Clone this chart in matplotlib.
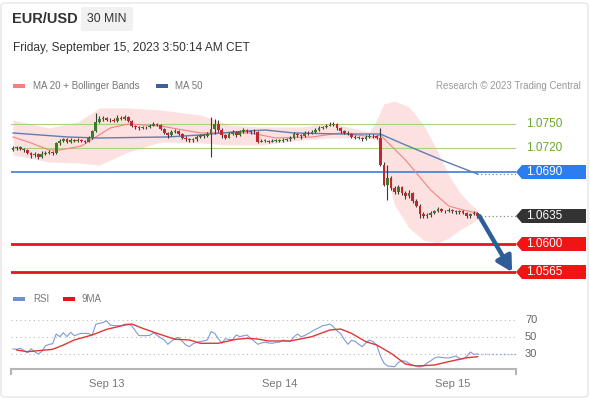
import numpy as np
import matplotlib
matplotlib.use("Agg")
import matplotlib.pyplot as plt
from matplotlib.patches import Polygon, FancyBboxPatch

plt.rcParams['font.family'] = ['Liberation Sans', 'DejaVu Sans']

# -------- DATA --------
# 30 min candles, index 0 = Sep 12 11:00
close = [1.0720, 1.0721, 1.0719, 1.0718, 1.0714, 1.0711, 1.0713, 1.0709, 1.0713, 1.0714,
         1.0715, 1.0714, 1.0726, 1.0729, 1.0731, 1.0728, 1.0730, 1.0729, 1.0730, 1.0729,
         1.0728, 1.0733, 1.0741, 1.0753, 1.0756, 1.0758, 1.0755, 1.0755, 1.0754, 1.0758,
         1.0756, 1.0759, 1.0754, 1.0748, 1.0746, 1.0745, 1.0746, 1.0746, 1.0748, 1.0750,
         1.0749, 1.0744, 1.0739, 1.0736, 1.0740, 1.0741, 1.0738, 1.0733, 1.0731, 1.0730,
         1.0731, 1.0734, 1.0736, 1.0735, 1.0738, 1.0744, 1.0750, 1.0743, 1.0736, 1.0733,
         1.0738, 1.0740, 1.0736, 1.0741, 1.0743, 1.0741, 1.0740, 1.0740, 1.0728, 1.0729,
         1.0729, 1.0728, 1.0729, 1.0729, 1.0729, 1.0730, 1.0731, 1.0733, 1.0738, 1.0736,
         1.0735, 1.0739, 1.0738, 1.0740, 1.0743, 1.0745, 1.0746, 1.0748, 1.0749, 1.0750,
         1.0745, 1.0741, 1.0739, 1.0738, 1.0734, 1.0733, 1.0733, 1.0731, 1.0734, 1.0735,
         1.0735, 1.0733, 1.0699, 1.0674, 1.0683, 1.0670, 1.0665, 1.0671, 1.0664, 1.0660,
         1.0664, 1.0654, 1.0648, 1.0638, 1.0635, 1.0636, 1.0639, 1.0641, 1.0644, 1.0641,
         1.0641, 1.0643, 1.0641, 1.0640, 1.0641, 1.0639, 1.0635, 1.0637, 1.0639, 1.0635]
high = [1.0723, 1.0723, 1.0722, 1.0720, 1.0719, 1.0715, 1.0715, 1.0714, 1.0716, 1.0716,
        1.0717, 1.0716, 1.0727, 1.0731, 1.0733, 1.0732, 1.0732, 1.0731, 1.0732, 1.0731,
        1.0730, 1.0735, 1.0743, 1.0764, 1.0760, 1.0760, 1.0759, 1.0757, 1.0757, 1.0761,
        1.0760, 1.0761, 1.0760, 1.0755, 1.0749, 1.0748, 1.0748, 1.0748, 1.0750, 1.0752,
        1.0751, 1.0750, 1.0745, 1.0740, 1.0743, 1.0744, 1.0742, 1.0739, 1.0735, 1.0733,
        1.0733, 1.0736, 1.0738, 1.0738, 1.0740, 1.0759, 1.0756, 1.0755, 1.0745, 1.0738,
        1.0740, 1.0743, 1.0741, 1.0743, 1.0745, 1.0744, 1.0743, 1.0744, 1.0741, 1.0731,
        1.0731, 1.0730, 1.0731, 1.0731, 1.0731, 1.0732, 1.0733, 1.0735, 1.0740, 1.0739,
        1.0738, 1.0741, 1.0741, 1.0742, 1.0745, 1.0747, 1.0748, 1.0750, 1.0752, 1.0753,
        1.0751, 1.0746, 1.0742, 1.0741, 1.0739, 1.0736, 1.0735, 1.0734, 1.0736, 1.0737,
        1.0737, 1.0736, 1.0745, 1.0702, 1.0699, 1.0685, 1.0672, 1.0674, 1.0673, 1.0666,
        1.0667, 1.0665, 1.0656, 1.0650, 1.0640, 1.0639, 1.0641, 1.0643, 1.0646, 1.0645,
        1.0643, 1.0645, 1.0644, 1.0643, 1.0643, 1.0642, 1.0640, 1.0639, 1.0641, 1.0640]
low = [1.0716, 1.0718, 1.0717, 1.0715, 1.0712, 1.0708, 1.0709, 1.0706, 1.0707, 1.0711,
       1.0712, 1.0711, 1.0713, 1.0724, 1.0727, 1.0726, 1.0726, 1.0727, 1.0727, 1.0727,
       1.0726, 1.0727, 1.0731, 1.0740, 1.0751, 1.0754, 1.0754, 1.0753, 1.0752, 1.0753,
       1.0755, 1.0755, 1.0752, 1.0746, 1.0744, 1.0743, 1.0744, 1.0744, 1.0745, 1.0747,
       1.0747, 1.0742, 1.0737, 1.0733, 1.0735, 1.0739, 1.0736, 1.0731, 1.0729, 1.0728,
       1.0728, 1.0729, 1.0733, 1.0733, 1.0734, 1.0709, 1.0738, 1.0740, 1.0732, 1.0731,
       1.0732, 1.0736, 1.0734, 1.0735, 1.0739, 1.0739, 1.0738, 1.0738, 1.0726, 1.0727,
       1.0727, 1.0726, 1.0727, 1.0727, 1.0727, 1.0728, 1.0729, 1.0729, 1.0731, 1.0734,
       1.0731, 1.0734, 1.0736, 1.0737, 1.0739, 1.0741, 1.0744, 1.0745, 1.0747, 1.0748,
       1.0743, 1.0739, 1.0737, 1.0736, 1.0732, 1.0731, 1.0731, 1.0729, 1.0730, 1.0733,
       1.0733, 1.0731, 1.0697, 1.0672, 1.0655, 1.0668, 1.0662, 1.0663, 1.0661, 1.0656,
       1.0658, 1.0651, 1.0646, 1.0633, 1.0632, 1.0633, 1.0634, 1.0637, 1.0640, 1.0640,
       1.0639, 1.0640, 1.0639, 1.0638, 1.0638, 1.0637, 1.0633, 1.0633, 1.0636, 1.0633]
first_open = 1.07175

# Bollinger band / moving averages (sampled points)
bb_idx = [0, 10, 18, 24, 32, 41, 52, 60, 69, 80, 88, 99, 101, 103, 106, 110, 114, 118, 121, 124, 127, 129]
bb_upper = [1.0755, 1.0745, 1.07525, 1.0770, 1.0770, 1.07675, 1.07613, 1.07488, 1.07463, 1.07463, 1.07513,
            1.0740, 1.0755, 1.0775, 1.07788, 1.07713, 1.07488, 1.0715, 1.06863, 1.0665, 1.0650, 1.06425]
bb_lower = [1.07113, 1.07025, 1.07013, 1.06988, 1.0715, 1.07275, 1.07263, 1.07238, 1.07238, 1.0730, 1.07325,
            1.07325, 1.0730, 1.06988, 1.06488, 1.0620, 1.0605, 1.06013, 1.06075, 1.06175, 1.0625, 1.06313]
ma20_idx = [0, 5, 10, 13, 19, 23, 27, 32, 41, 52, 66, 73, 83, 91, 100, 102, 109, 116, 121, 125, 129]
ma20 = [1.07338, 1.07263, 1.07175, 1.07175, 1.07225, 1.07338, 1.0745, 1.0750, 1.07475, 1.07388, 1.07388,
        1.07325, 1.07338, 1.07388, 1.07338, 1.07363, 1.0705, 1.06675, 1.06475, 1.06425, 1.06388]
ma50_idx = [0, 15, 24, 43, 52, 61, 70, 78, 91, 102, 109, 119, 129]
ma50 = [1.07388, 1.07338, 1.07325, 1.07338, 1.07363, 1.0740, 1.07425, 1.07388, 1.07375, 1.07375,
        1.07238, 1.0705, 1.06875]

# levels
resist = [1.0750, 1.0720]
pivot = 1.0690
last_price = 1.0635
supports = [1.0600, 1.0565]

# RSI
rsi = [36, 35.5, 36.7, 34, 31.5, 36, 32.7, 30, 33, 39.4,
       41.4, 42, 53.5, 50.4, 55, 50.4, 55.5, 51.6, 53, 54.3,
       54.3, 54, 52.4, 65, 66, 67, 69, 64, 63.5, 63.3,
       63.3, 65, 65.3, 63, 57, 51.6, 51.6, 51.6, 52, 55,
       52, 49, 46.5, 41.4, 45, 48.4, 49.6, 45, 40.6, 38.6,
       42, 43.8, 44.5, 45.5, 46.5, 56.3, 54.3, 48, 42.6, 48,
       47, 47, 52.4, 50.4, 51.5, 52.4, 48.4, 45, 41.4, 43,
       43.8, 43, 42.6, 43.5, 44, 46.5, 45.5, 44.5, 50, 53.5,
       50.4, 51.6, 54, 56.5, 59, 61, 63.3, 64, 65.3, 62,
       57, 54, 47, 41.4, 46, 45, 41.5, 38.6, 43, 46.5,
       44.5, 40.6, 28, 19.4, 16, 15.5, 15, 20, 22, 21.5,
       19, 17, 15.9, 14.7, 16, 19.4, 22, 25, 26.5, 26,
       25.5, 25.3, 26.5, 27.6, 25, 24.1, 27, 32.4, 29.5, 30]
ma9_idx = [1, 4, 11, 14, 17, 22, 26, 31, 33, 36, 40, 45, 49, 52, 57, 62, 65, 68, 71, 77, 83, 88, 91,
           94, 98, 101, 105, 109, 112, 117, 121, 126, 129]
ma9 = [34.7, 32.7, 35.5, 40.6, 46.5, 52.4, 59, 64, 65.3, 60.2, 54.3, 47.3, 46.5, 42.6, 42.6, 47.3, 48.4,
       47.6, 45.3, 45.3, 50.4, 58.2, 59.4, 54.3, 44.5, 40.6, 30.8, 18.2, 15.9, 17, 21, 25.6, 26.8]

day_idx = [26, 74, 122]
day_labels = ["Sep 13", "Sep 14", "Sep 15"]

# -------- FIGURE --------
W, H = 590, 400
fig = plt.figure(figsize=(5.9, 4.0), dpi=100)

def fx(px):
    return px / W

def fy(py):
    return 1 - py / H

# outer card
fig.patches.append(FancyBboxPatch((fx(1), fy(397)), fx(587), fy(3) - fy(397),
                                  boxstyle="round,pad=0,rounding_size=0.008",
                                  transform=fig.transFigure, fc='none', ec='#e6e6e6', lw=1))

# header
fig.patches.append(FancyBboxPatch((fx(81), fy(31)), fx(52), fy(7) - fy(31),
                                  boxstyle="round,pad=0,rounding_size=0.004",
                                  transform=fig.transFigure, fc='#f1f1f1', ec='none'))
fig.text(fx(12), fy(19), "EUR/USD", fontsize=10.5, fontweight='bold', color='#333333', va='center')
fig.text(fx(107), fy(19), "30 MIN", fontsize=8.8, color='#333333', va='center', ha='center')
fig.text(fx(13), fy(48), "Friday, September 15, 2023 3:50:14 AM CET", fontsize=8.6,
         color='#333333', va='center')

# legend row
fig.patches.append(plt.Rectangle((fx(13), fy(88)), fx(12), fy(84) - fy(88),
                                 transform=fig.transFigure, fc='#f47f7f', ec='none'))
fig.text(fx(33), fy(86), "MA 20 + Bollinger Bands", fontsize=7, color='#777777', va='center')
fig.patches.append(plt.Rectangle((fx(156), fy(88)), fx(12), fy(84) - fy(88),
                                 transform=fig.transFigure, fc='#3d5f9a', ec='none'))
fig.text(fx(175), fy(86), "MA 50", fontsize=7, color='#777777', va='center')
fig.text(fx(581), fy(86), "Research \u00a9 2023 Trading Central", fontsize=7, color='#999999',
         va='center', ha='right')

# -------- PRICE PANEL --------
ax = fig.add_axes([fx(11), fy(285), fx(505), fy(100) - fy(285)])
xmin, xmax = -0.56, 139.7
ax.set_xlim(xmin, xmax)
ax.set_ylim(1.054875, 1.0780)
ax.axis('off')

close = np.array(close)
high = np.array(high)
low = np.array(low)
opn = np.concatenate([[first_open], close[:-1]])
idx = np.arange(len(close))

ax.fill_between(bb_idx, bb_lower, bb_upper, color='#fde0e0', lw=0, zorder=1)

for lv in resist:
    ax.axhline(lv, color='#a9d17e', lw=0.8, zorder=2)
ax.axhline(pivot, color='#3b7ddd', lw=1.2, zorder=2)
for lv in supports:
    ax.axhline(lv, color='#e8141b', lw=2, zorder=2)

ax.plot(ma20_idx, ma20, color='#f38383', lw=0.8, zorder=3)
ax.plot(ma50_idx, ma50, color='#5f7db5', lw=1.0, zorder=3)

up = close >= opn
body_lo = np.minimum(opn, close)
body_h = np.maximum(np.abs(close - opn), 0.00005)
ax.vlines(idx, low, high, color='#3a3a3a', lw=0.8, zorder=4)
ax.bar(idx[up], body_h[up], bottom=body_lo[up], width=0.75, color='#3f7a2c', zorder=5)
ax.bar(idx[~up], body_h[~up], bottom=body_lo[~up], width=0.75, color='#c4262d', zorder=5)

# dotted leaders to the labels
ax.plot([ma50_idx[-1], xmax], [ma50[-1], ma50[-1]], ls=(0, (1, 2)), color='#888888', lw=0.9)
ax.plot([idx[-1], xmax], [last_price, last_price], ls=(0, (1, 2)), color='#888888', lw=0.9)

# forecast arrow
ax.annotate('', xy=(138.6, supports[1]), xytext=(idx[-1] + 0.5, last_price),
            arrowprops=dict(arrowstyle='-|>,head_length=0.9,head_width=0.5', lw=3.2,
                            color='#2f5d9a', shrinkA=0, shrinkB=0), zorder=6)

# right side labels
trans = ax.get_yaxis_transform()
x_tip, x_body, x_end = 1.0, 1.0 + 6 / 505, 1.0 + 70 / 505
half = 7 * (1.0780 - 1.054875) / 185
for lv in resist:
    ax.text(1.0 + 10 / 505, lv, f"{lv:.4f}", transform=trans, fontsize=8.5, color='#6aa92a',
            va='center', ha='left')


def tag(level, color):
    pts = [(x_tip, level), (x_body, level + half), (x_end, level + half),
           (x_end, level - half), (x_body, level - half)]
    ax.add_patch(Polygon(pts, closed=True, transform=trans, fc=color, ec='none', clip_on=False))
    ax.text(1.0 + 10 / 505, level, f"{level:.4f}", transform=trans, fontsize=8.5,
            color='white', va='center', ha='left')


tag(pivot, '#2c7df0')
tag(last_price, '#333333')
for lv in supports:
    tag(lv, '#f01414')

# -------- RSI PANEL --------
ax2 = fig.add_axes([fx(11), fy(369), fx(505), fy(310) - fy(369)])
ax2.set_xlim(xmin, xmax)
ax2.set_ylim(12.35, 81.76)
for s in ['top', 'right', 'left']:
    ax2.spines[s].set_visible(False)
ax2.spines['bottom'].set_color('#b5b5b5')
ax2.spines['bottom'].set_linewidth(1.5)
ax2.set_yticks([])
ax2.set_xticks(day_idx)
ax2.set_xticklabels(day_labels, fontsize=8, color='#777777')
ax2.tick_params(axis='x', length=0, pad=7)
for x_end_tick in [xmin, xmax]:
    ax2.plot([x_end_tick, x_end_tick], [0, -0.08], transform=ax2.get_xaxis_transform(),
             color='#b5b5b5', lw=1.5, clip_on=False)

for lv in [70, 50, 30]:
    ax2.axhline(lv, color='#bbbbbb', lw=0.8, ls=(0, (1, 3)))
    ax2.text(1.0 + 9 / 505, lv, str(lv), transform=ax2.get_yaxis_transform(), fontsize=8,
             color='#666666', va='center', ha='left')

ax2.plot(idx, rsi, color='#7f9ad9', lw=0.8)
ax2.plot([idx[-1], xmax], [rsi[-1], rsi[-1]], ls=(0, (1, 2)), color='#7f9ad9', lw=0.9)
ax2.plot(ma9_idx, ma9, color='#e33535', lw=1.0)

# RSI legend
fig.patches.append(plt.Rectangle((fx(13), fy(301)), fx(12), fy(297) - fy(301),
                                 transform=fig.transFigure, fc='#6d8fdc', ec='none'))
fig.text(fx(33), fy(299), "RSI", fontsize=7, color='#777777', va='center')
fig.patches.append(plt.Rectangle((fx(63), fy(301)), fx(12), fy(297) - fy(301),
                                 transform=fig.transFigure, fc='#e61414', ec='none'))
fig.text(fx(82), fy(299), "9MA", fontsize=7, color='#777777', va='center')

fig.savefig("out.png", dpi=100)
